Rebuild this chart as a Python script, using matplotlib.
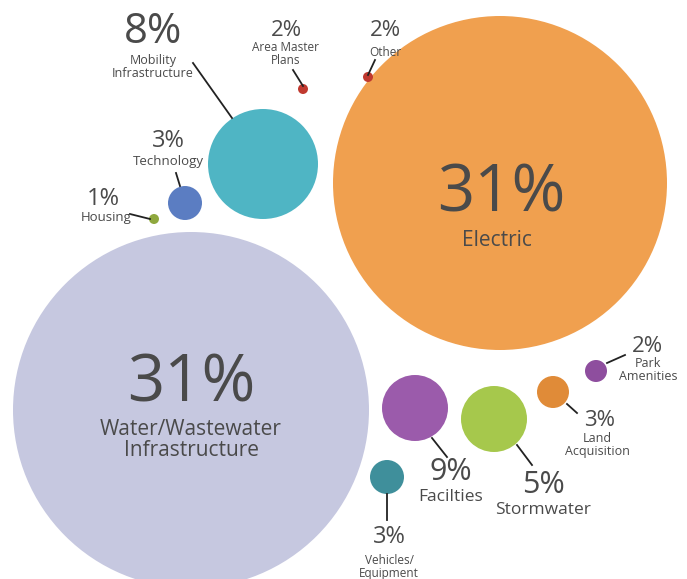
import matplotlib.pyplot as plt
from matplotlib.patches import Circle

# data
categories = ['Electric', 'Water/Wastewater\nInfrastructure', 'Facilties', 'Mobility\nInfrastructure',
              'Stormwater', 'Technology', 'Land\nAcquisition', 'Vehicles/\nEquipment',
              'Area Master\nPlans', 'Other', 'Park\nAmenities', 'Housing']
shares = [31, 31, 9, 8, 5, 3, 3, 3, 2, 2, 2, 1]

# layout (pixel coords, y down)
centers = [(500, 183), (191, 410), (415, 408), (263, 164), (494, 419), (185, 203),
           (553, 392), (387, 477), (303, 89), (368, 77), (596, 371), (154, 219)]
radii = [167, 178, 33, 55, 33, 17, 16, 17, 5, 5, 11, 5]
colors = ['#F0A04F', '#C6C8E0', '#9B5BAB', '#4FB5C4', '#A6C84C', '#5B7DC2',
          '#E08B38', '#3F8F9B', '#C0392F', '#C0392F', '#8E4E9E', '#8FA83E']
# label anchors: percent text pos, pct fontsize, name fontsize, name offset
pct_pos = [(501, 195), (191, 384), (451, 472), (153, 32), (543, 485), (168, 141),
           (600, 420), (389, 537), (286, 30), (385, 30), (647, 347), (103, 199)]
pct_size = [47, 47, 22, 30, 22, 17, 16, 17, 16, 16, 16, 17]
name_size = [15, 15, 12.5, 9, 12.5, 9.5, 9, 8.5, 8.5, 8.5, 9, 9.5]
name_dy = [45, 56, 25, 35, 25, 21, 25, 30, 24, 22, 23, 19]
name_dx = [-4, 0, 0, 0, 0, 0, -3, 0, 0, 0, 1, 3]
leaders = [None, None, ((432, 438), (447, 457)), ((193, 63), (232, 118)),
           ((517, 445), (532, 465)), ((176, 173), (180, 186)), ((567, 404), (577, 413)),
           ((387, 494), (387, 520)), ((293, 70), (303, 86)), ((375, 60), (368, 75)),
           ((607, 363), (625, 355)), ((130, 214), (150, 219))]

plt.rcParams['font.family'] = ['Open Sans', 'DejaVu Sans']
txt = '#4a4a4a'

fig = plt.figure(figsize=(6.87, 5.79), dpi=100)
ax = fig.add_axes([0, 0, 1, 1])
ax.set_xlim(0, 687)
ax.set_ylim(579, 0)
ax.set_aspect('equal')
ax.axis('off')

for i, cat in enumerate(categories):
    cx, cy = centers[i]
    ax.add_patch(Circle((cx, cy), radii[i], facecolor=colors[i], edgecolor='none', zorder=1))
    if leaders[i] is not None:
        (x0, y0), (x1, y1) = leaders[i]
        ax.plot([x0, x1], [y0, y1], color='#222222', lw=1.3, zorder=2)
    px, py = pct_pos[i]
    ax.text(px, py, f'{shares[i]}%', fontsize=pct_size[i], color=txt,
            ha='center', va='center', zorder=3)
    ax.text(px + name_dx[i], py + name_dy[i], cat, fontsize=name_size[i], color=txt,
            ha='center', va='center', linespacing=1.05, zorder=3)

fig.savefig('out.png', dpi=100)
